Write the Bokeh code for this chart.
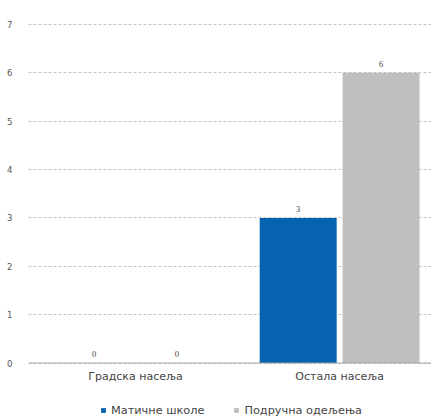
import numpy as np
from bokeh.plotting import figure
from bokeh.models import ColumnDataSource, Range1d, FixedTicker, LabelSet, Legend, LegendItem, Span
from bokeh.core.properties import value
from bokeh.embed import file_html
from bokeh.resources import INLINE

categories = ["Градска насеља", "Остала насеља"]
series_names = ["Матичне школе", "Подручна одељења"]
maticne = [0, 3]
podrucna = [0, 6]
y_ticks = [0, 1, 2, 3, 4, 5, 6, 7]

colors = ["#0563B1", "#BFBFBF"]
FONT = "DejaVu Sans"
TXT = "#444444"

idx = np.arange(len(categories))
offset = 0.203
bw = 0.377

src1 = ColumnDataSource(dict(x=idx - offset, top=maticne, lbl=[str(v) for v in maticne]))
src2 = ColumnDataSource(dict(x=idx + offset, top=podrucna, lbl=[str(v) for v in podrucna]))
srcc = ColumnDataSource(dict(x=idx, y=np.zeros(len(categories)), name=categories))

p = figure(width=431, height=417, output_backend="svg", toolbar_location=None,
           x_range=Range1d(-0.524, 1.45), y_range=Range1d(-1.127, 7.207),
           min_border_left=28, min_border_right=0, min_border_top=14, min_border_bottom=0)
p.outline_line_color = None

r1 = p.vbar(x="x", top="top", width=bw, source=src1, fill_color=colors[0], line_color=None)
r2 = p.vbar(x="x", top="top", width=bw, source=src2, fill_color=colors[1], line_color=None)

p.add_layout(Span(location=0, dimension="width", line_color="#A6A6A6", line_width=1))

for s in (src1, src2):
    p.add_layout(LabelSet(x="x", y="top", text="lbl", source=s, y_offset=6,
                          text_align="center", text_baseline="bottom",
                          text_font=FONT, text_font_size="8.5px", text_color=TXT))

p.text(x="x", y="y", text="name", source=srcc, y_offset=13,
       text_align="center", text_baseline="middle",
       text_font=value(FONT), text_font_size="11px", text_color=TXT)

p.xaxis.visible = False
p.xgrid.grid_line_color = None

p.yaxis.ticker = FixedTicker(ticks=y_ticks)
p.yaxis.axis_line_color = None
p.yaxis.major_tick_line_color = None
p.yaxis.minor_tick_line_color = None
p.yaxis.major_label_text_font = FONT
p.yaxis.major_label_text_font_size = "8.5px"
p.yaxis.major_label_text_color = "#555555"
p.yaxis.major_label_standoff = 10
p.ygrid.ticker = FixedTicker(ticks=y_ticks)
p.ygrid.grid_line_color = "#C4C4C4"
p.ygrid.grid_line_dash = "3 2"

legend = Legend(items=[LegendItem(label=series_names[0], renderers=[r1]),
                       LegendItem(label=series_names[1], renderers=[r2])],
                orientation="horizontal", location=(72, 0),
                glyph_width=6, glyph_height=6, label_height=14, label_standoff=5,
                label_text_font=FONT, label_text_font_size="11.3px",
                label_text_color=TXT, label_text_baseline="middle",
                spacing=29, border_line_color=None, background_fill_alpha=0,
                padding=0, margin=0)
p.add_layout(legend, "center")

open("out.html", "w").write(file_html(p, INLINE))
